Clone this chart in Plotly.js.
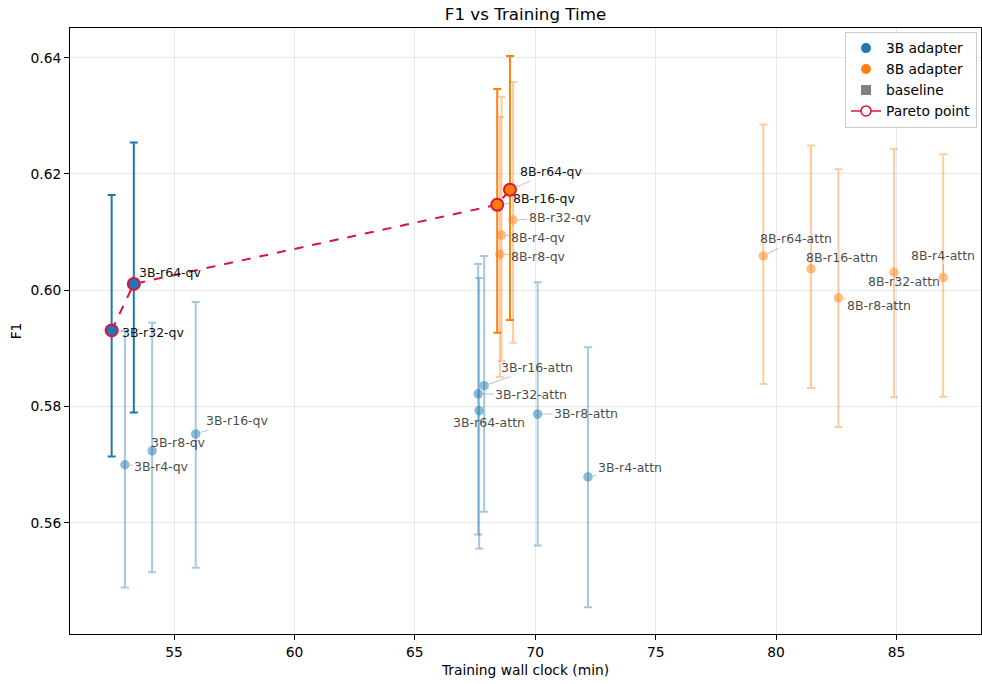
<!DOCTYPE html>
<html>
<head>
<meta charset="utf-8">
<script src="https://cdn.plot.ly/plotly-3.0.1.min.js"></script>
<style>html,body{margin:0;padding:0;background:#fff;}#chart{width:982px;height:684px;}</style>
</head>
<body>
<div id="chart"></div>
<script>
// ---- data ----
const names3B = ['3B-r4-qv','3B-r8-qv','3B-r16-qv','3B-r32-qv','3B-r64-qv','3B-r4-attn','3B-r8-attn','3B-r16-attn','3B-r32-attn','3B-r64-attn'];
const time3B  = [52.96, 54.09, 55.90, 52.41, 53.33, 72.19, 70.10, 67.88, 67.63, 67.67];
const f1_3B   = [0.5700, 0.5724, 0.5753, 0.5931, 0.6011, 0.5679, 0.5787, 0.5836, 0.5822, 0.5793];
const lo3B    = [0.5489, 0.5515, 0.5523, 0.5714, 0.5790, 0.5455, 0.5561, 0.5619, 0.5580, 0.5556];
const hi3B    = [0.5930, 0.5944, 0.5980, 0.6164, 0.6254, 0.5902, 0.6014, 0.6059, 0.6045, 0.6021];
const pareto3B = [false, false, false, true, true, false, false, false, false, false];

const names8B = ['8B-r4-qv','8B-r8-qv','8B-r16-qv','8B-r32-qv','8B-r64-qv','8B-r4-attn','8B-r8-attn','8B-r16-attn','8B-r32-attn','8B-r64-attn'];
const time8B  = [68.60, 68.53, 68.42, 69.08, 68.95, 86.94, 82.59, 81.45, 84.90, 79.47];
const f1_8B   = [0.6095, 0.6062, 0.6147, 0.6121, 0.6173, 0.6022, 0.5987, 0.6037, 0.6031, 0.6059];
const lo8B    = [0.5879, 0.5851, 0.5927, 0.5910, 0.5949, 0.5817, 0.5765, 0.5832, 0.5816, 0.5839];
const hi8B    = [0.6333, 0.6298, 0.6346, 0.6358, 0.6403, 0.6234, 0.6208, 0.6249, 0.6243, 0.6285];
const pareto8B = [false, false, true, false, true, false, false, false, false, false];

const xTicks = [55, 60, 65, 70, 75, 80, 85];
const yTicks = [0.56, 0.58, 0.60, 0.62, 0.64];

// ---- label placement (pixel offsets from point) ----
const labelOffset = {
  '3B-r4-qv':[37,2], '3B-r8-qv':[26,-8], '3B-r16-qv':[42,-13], '3B-r32-qv':[42,2], '3B-r64-qv':[37,-11],
  '3B-r4-attn':[42,-9], '3B-r8-attn':[48,-1], '3B-r16-attn':[53,-18], '3B-r32-attn':[53,1], '3B-r64-attn':[10,12],
  '8B-r4-qv':[37,2], '8B-r8-qv':[39,2], '8B-r16-qv':[47,-6], '8B-r32-qv':[47,-2], '8B-r64-qv':[42,-18],
  '8B-r4-attn':[0,-22], '8B-r8-attn':[41,8], '8B-r16-attn':[31,-11], '8B-r32-attn':[10,9], '8B-r64-attn':[33,-17]
};

const FONT = 'DejaVu Sans, sans-serif';
const C3 = '#1f77b4', C8 = '#ff7f0e', RED = '#dc143c';

function pick(arr, mask, want) { return arr.filter((_, i) => mask[i] === want); }

function groupTraces(names, t, f, lo, hi, mask, color, rgba) {
  const out = [];
  [false, true].forEach(isP => {
    const x = pick(t, mask, isP), y = pick(f, mask, isP);
    const l = pick(lo, mask, isP), h = pick(hi, mask, isP);
    out.push({
      type: 'scatter', mode: 'markers', x: x, y: y, showlegend: false, hoverinfo: 'skip',
      text: pick(names, mask, isP),
      error_y: {
        type: 'data', symmetric: false,
        array: h.map((v, i) => v - y[i]),
        arrayminus: l.map((v, i) => y[i] - v),
        color: isP ? color : rgba(0.4), thickness: 2, width: 4
      },
      marker: isP
        ? {color: color, size: 12, line: {color: RED, width: 2}}
        : {color: rgba(0.5), size: 9.5, line: {width: 0}}
    });
  });
  return out;
}

const traces = [];
traces.push(...groupTraces(names3B, time3B, f1_3B, lo3B, hi3B, pareto3B, C3, a => `rgba(31,119,180,${a})`));
traces.push(...groupTraces(names8B, time8B, f1_8B, lo8B, hi8B, pareto8B, C8, a => `rgba(255,127,14,${a})`));

// Pareto frontier line
const pts = [];
names3B.forEach((n, i) => { if (pareto3B[i]) pts.push([time3B[i], f1_3B[i]]); });
names8B.forEach((n, i) => { if (pareto8B[i]) pts.push([time8B[i], f1_8B[i]]); });
pts.sort((a, b) => a[0] - b[0]);
traces.splice(0, 0, {
  type: 'scatter', mode: 'lines', x: pts.map(p => p[0]), y: pts.map(p => p[1]),
  line: {color: RED, width: 2, dash: 'dash'}, showlegend: false, hoverinfo: 'skip'
});

// legend entries
traces.push({type:'scatter', mode:'markers', x:[null], y:[null], name:'3B adapter', marker:{color:C3, size:10}});
traces.push({type:'scatter', mode:'markers', x:[null], y:[null], name:'8B adapter', marker:{color:C8, size:10}});
traces.push({type:'scatter', mode:'markers', x:[null], y:[null], name:'baseline', marker:{color:'#808080', size:10, symbol:'square'}});
traces.push({type:'scatter', mode:'lines+markers', x:[null], y:[null], name:'Pareto point',
  line:{color:RED, width:1.5}, marker:{color:'#ffffff', size:10, line:{color:RED, width:1.5}}});

// annotations
const annotations = [];
function addLabels(names, t, f, mask) {
  names.forEach((n, i) => {
    const off = labelOffset[n] || [30, 0];
    annotations.push({
      x: t[i], y: f[i], xref: 'x', yref: 'y', text: n,
      showarrow: true, ax: off[0], ay: off[1], arrowhead: 0, arrowwidth: 0.8,
      arrowcolor: 'rgba(128,128,128,0.6)', standoff: 5,
      font: {family: FONT, size: 12.5, color: mask[i] ? '#111111' : 'rgba(40,40,40,0.85)'}
    });
  });
}
addLabels(names3B, time3B, f1_3B, pareto3B);
addLabels(names8B, time8B, f1_8B, pareto8B);

const layout = {
  width: 982, height: 684,
  margin: {l: 70, r: 1, t: 28, b: 50, pad: 0},
  paper_bgcolor: '#ffffff', plot_bgcolor: '#ffffff',
  font: {family: FONT, size: 13.8, color: '#000'},
  title: {text: 'F1 vs Training Time', font: {family: FONT, size: 16.7, color: '#000'},
          x: 0.5, xref: 'paper', y: 1 - 14/684, yref: 'container', yanchor: 'middle'},
  xaxis: {
    range: [50.68, 88.51], tickvals: xTicks, ticktext: xTicks.map(String),
    ticks: 'outside', ticklen: 5, tickwidth: 1, tickcolor: '#000',
    showline: true, mirror: true, linecolor: '#000', linewidth: 1,
    showgrid: true, gridcolor: '#e8e8e8', gridwidth: 1, zeroline: false,
    tickfont: {family: FONT, size: 13.8, color: '#000'},
    title: {text: 'Training wall clock (min)', font: {family: FONT, size: 13.8, color: '#000'}, standoff: 6}
  },
  yaxis: {
    range: [0.5409, 0.6451], tickvals: yTicks, ticktext: yTicks.map(v => v.toFixed(2)),
    ticks: 'outside', ticklen: 5, tickwidth: 1, tickcolor: '#000',
    showline: true, mirror: true, linecolor: '#000', linewidth: 1,
    showgrid: true, gridcolor: '#e8e8e8', gridwidth: 1, zeroline: false,
    tickfont: {family: FONT, size: 13.8, color: '#000'},
    title: {text: 'F1', font: {family: FONT, size: 13.8, color: '#000'}, standoff: 5}
  },
  legend: {
    x: 0.9956, xanchor: 'right', y: 0.994, yanchor: 'top',
    bgcolor: 'rgba(255,255,255,0.9)', bordercolor: '#cccccc', borderwidth: 1,
    font: {family: FONT, size: 13.8, color: '#000'}, tracegroupgap: 0, itemwidth: 30
  },
  annotations: annotations,
  showlegend: true
};

Plotly.newPlot('chart', traces, layout, {staticPlot: true, displayModeBar: false});
</script>
</body>
</html>
